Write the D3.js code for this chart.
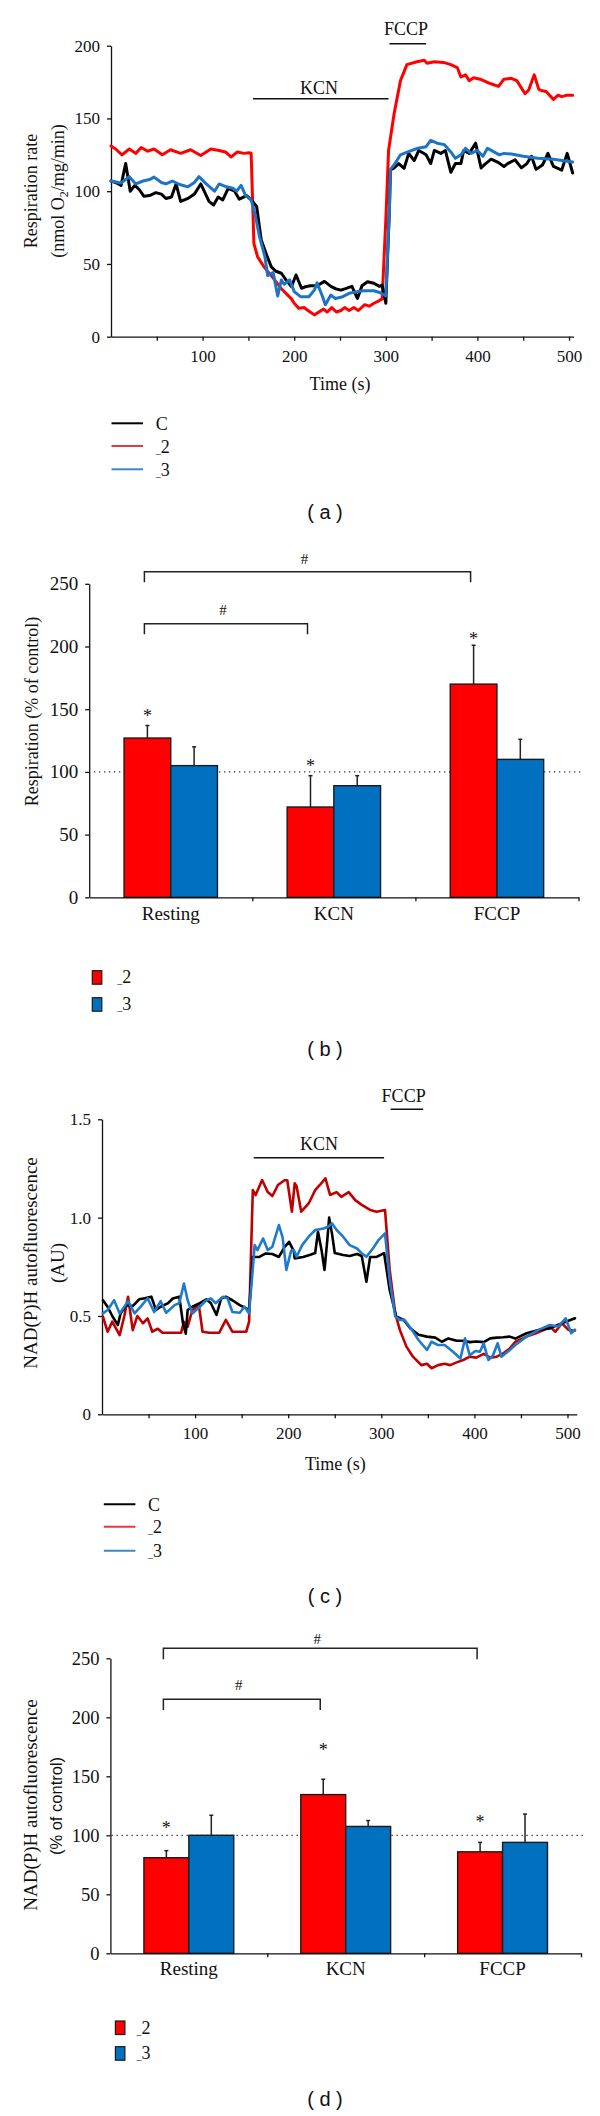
<!DOCTYPE html>
<html><head><meta charset="utf-8">
<script src="https://cdn.jsdelivr.net/npm/d3@7"></script>
<style>body{margin:0;background:#fff}svg{display:block}svg text{font-family:"Liberation Serif","Times New Roman","DejaVu Serif",serif}</style>
</head><body>
<script>
// ---------------- DATA ----------------
const timeTickValues = [50,100,150,200,250,300,350,400,450,500];
const timeTickLabels = [100,200,300,400,500];
const rateTicks = [0,50,100,150,200];
const nadTicks = [0,0.5,1.0,1.5];
const pctTicks = [0,50,100,150,200,250];
const lineNames = ["C","_2","_3"];
const barNames = ["_2","_3"];
const conditions = ["Resting","KCN","FCCP"];

// (a) respiration rate traces [time s, nmol O2/mg/min]
const respC = [[0,107],[5,106],[11,104],[16,119],[21,100],[26,104],[31,101],[36,96.5],[42,97],[49,99],[55,98],[60,95],[66,96],[71,105],[76,93],[84,95],[91,98],[98,105],[107,93],[112,90.5],[117,96],[122,94],[128,102],[135,100],[140,94.5],[148,97],[153,94],[159,89.5],[164,66.5],[170,56],[175,48],[180,45],[186,43.6],[191,39],[197,34.5],[202,42.4],[208,33.3],[213,34.5],[218,35],[225,35],[233,38],[240,34.6],[245,33],[251,32],[256,33],[263,34.6],[269,26.3],[274,35],[280,37.8],[287,36.7],[293,34.6],[296,35.5],[300,23],[304,89],[305,114.6],[309,116],[314,119],[320,115.7],[325,126],[331,121],[336,128],[344,125],[349,119],[353,128],[360,126],[365,128],[371,113],[376,119],[382,119],[385,128],[391,126],[398,133],[404,116],[409,119],[415,122],[422,120],[429,117],[433,119],[441,121.6],[448,116],[454,119],[459,124],[464,115],[471,118],[477,126],[483,117],[492,114.5],[498,126],[504,112.5]];
const resp2 = [[0,131],[5,129],[12,125],[20,129],[27,126],[33,130],[40,127.5],[47,129],[56,125],[65,128.5],[76,126],[87,128.5],[98,124.5],[109,129],[118,128],[125,127],[131,123.5],[138,127],[145,126],[151,126.5],[153,126],[156,64],[160,55],[167,48],[175,42],[186,33],[197,26],[200,23],[205,19.5],[211,20],[215,18],[222,15],[227,17],[232,19],[236,17],[241,20],[246,17],[251,18],[255,20],[260,18],[265,20],[270,18],[277,22],[282,21],[287,23],[292,24.5],[296,26],[300,80],[303,128],[309,153],[316,176],[323,187],[334,189],[342,190],[345,188],[353,189],[363,188.5],[371,187],[378,185],[382,178.5],[387,180],[391,176],[396,178],[403,177],[414,174],[423,172],[429,177],[437,177.6],[443,176],[452,167],[456,169.6],[462,180],[467,170],[471,169],[475,168.5],[483,163],[488,166],[492,165],[498,166],[504,166]];
const resp3 = [[0,107],[11,105.6],[20,110],[27,105],[35,107],[42,108],[47,109.7],[55,106],[60,105],[67,107],[75,104.6],[84,103],[91,106],[96,110],[104,105],[113,100],[118,105],[126,103],[133,102],[137,100],[142,104],[147,97],[153,94],[157,85],[162,69],[168,55],[171,42],[177,44],[182,28],[186,39],[189,36],[195,39],[200,31],[207,27.5],[216,27.5],[222,32],[225,37],[231,27.5],[234,22],[240,28.6],[245,26.3],[253,27.5],[260,29.8],[269,31],[276,31.6],[287,31.6],[294,30.2],[300,28],[304,89],[305,115],[309,118],[316,125],[324,127],[335,129.5],[344,130.6],[349,135],[356,133],[364,132],[371,127],[376,122.6],[382,125],[387,129.5],[393,126],[400,128],[406,124],[411,129.5],[418,127],[424,125],[429,126],[437,125.5],[450,124],[466,122.6],[483,122],[504,120]];

// (c) NAD(P)H autofluorescence traces [time s, AU]
const nadC = [[1,0.58],[6,0.547],[11,0.5],[17,0.454],[20,0.513],[26,0.555],[33,0.55],[40,0.585],[46,0.59],[53,0.598],[58,0.53],[63,0.547],[71,0.565],[76,0.589],[83,0.598],[87,0.463],[90,0.41],[92,0.53],[97,0.547],[105,0.565],[112,0.585],[117,0.565],[123,0.505],[128,0.589],[133,0.598],[140,0.58],[148,0.555],[155,0.538],[158,0.53],[162,0.8],[169,0.8],[176,0.818],[183,0.815],[190,0.8],[196,0.85],[201,0.877],[206,0.83],[207,0.793],[216,0.8],[223,0.81],[229,0.82],[232,0.928],[236,0.83],[239,0.734],[242,0.886],[244,1.0],[247,0.92],[250,0.82],[259,0.81],[266,0.805],[274,0.815],[279,0.805],[284,0.674],[288,0.8],[295,0.8],[303,0.82],[309,0.632],[316,0.497],[324,0.48],[331,0.438],[340,0.404],[349,0.395],[358,0.39],[365,0.369],[372,0.386],[381,0.374],[388,0.374],[395,0.367],[402,0.37],[410,0.367],[417,0.386],[424,0.39],[431,0.392],[438,0.395],[444,0.385],[456,0.412],[469,0.429],[481,0.437],[494,0.463],[508,0.488]];
const nad2 = [[1,0.497],[6,0.42],[11,0.471],[19,0.403],[24,0.5],[28,0.598],[33,0.428],[38,0.5],[44,0.463],[49,0.488],[54,0.42],[60,0.435],[65,0.415],[76,0.415],[85,0.415],[88,0.471],[92,0.445],[97,0.53],[104,0.555],[108,0.42],[115,0.415],[126,0.415],[133,0.48],[140,0.42],[155,0.42],[158,0.471],[162,1.14],[165,1.115],[172,1.191],[178,1.13],[183,1.11],[189,1.166],[196,1.19],[199,1.19],[204,1.03],[207,1.175],[209,1.16],[214,1.03],[222,1.072],[229,1.14],[234,1.166],[240,1.2],[245,1.115],[252,1.13],[257,1.106],[265,1.13],[272,1.089],[279,1.065],[288,1.039],[295,1.03],[304,1.039],[309,0.734],[315,0.513],[320,0.428],[327,0.344],[334,0.293],[343,0.25],[349,0.257],[354,0.234],[361,0.25],[368,0.257],[374,0.25],[381,0.264],[388,0.276],[395,0.293],[402,0.288],[410,0.307],[417,0.288],[424,0.293],[431,0.31],[438,0.335],[444,0.369],[456,0.395],[466,0.412],[475,0.43],[481,0.446],[487,0.42],[494,0.463],[501,0.429],[508,0.425]];
const nad3 = [[1,0.513],[6,0.53],[13,0.58],[19,0.513],[28,0.575],[35,0.513],[42,0.55],[49,0.59],[56,0.52],[63,0.575],[69,0.516],[78,0.555],[83,0.565],[88,0.665],[92,0.58],[97,0.513],[105,0.547],[112,0.58],[117,0.589],[122,0.565],[130,0.598],[135,0.589],[140,0.52],[148,0.516],[153,0.547],[158,0.513],[164,0.86],[167,0.835],[173,0.894],[178,0.835],[183,0.852],[190,0.962],[194,0.9],[198,0.734],[203,0.83],[206,0.835],[209,0.801],[215,0.86],[222,0.903],[229,0.937],[238,0.945],[243,0.954],[247,0.971],[252,0.937],[259,0.903],[266,0.86],[274,0.843],[279,0.818],[284,0.801],[291,0.843],[297,0.886],[304,0.92],[309,0.683],[315,0.497],[320,0.48],[325,0.48],[333,0.428],[340,0.378],[349,0.327],[354,0.369],[361,0.352],[368,0.352],[377,0.318],[385,0.284],[390,0.386],[395,0.3],[401,0.322],[406,0.318],[410,0.361],[415,0.276],[420,0.3],[425,0.361],[429,0.293],[438,0.327],[444,0.352],[456,0.395],[469,0.429],[481,0.454],[490,0.446],[498,0.488],[504,0.412],[508,0.43]];

// (b) respiration, % of control
const respBar2 = [127,72,170];
const respBar2Err = [10,25,31];
const respBar3 = [105,89,110];
const respBar3Err = [15,8,16];
const respStars = [147,107,208];

// (d) NAD(P)H, % of control
const nadBar2 = [81,134.5,86];
const nadBar2Err = [6,13,8];
const nadBar3 = [100,107.5,94];
const nadBar3Err = [17,5,24];
const nadStars = [109,175,114];

// ---------------- DRAW ----------------
const W=600,H=2116;
const SERIF='"Liberation Serif","Times New Roman","DejaVu Serif",serif';
const SANS='"Liberation Sans",Arial,sans-serif';
const INK="#111";
const svg=d3.select("body").append("svg").attr("width",W).attr("height",H);
svg.append("rect").attr("width",W).attr("height",H).attr("fill","#fff");

function styleAxis(g,size){
  g.attr("font-family",null).attr("font-size",size);
  g.selectAll("path,line").attr("stroke",INK).attr("stroke-width",1.3);
  g.selectAll("text").attr("fill",INK).style("font-family",SERIF);
}
function txt(x,y,s,size,opt={}){
  return svg.append("text").attr("x",x).attr("y",y).style("font-family",opt.family||SERIF)
    .attr("font-size",size).attr("fill",INK).attr("text-anchor",opt.anchor||"middle").text(s);
}
function vtitle(x,y,s,size,family){
  return svg.append("text").attr("transform",`translate(${x},${y}) rotate(-90)`)
    .attr("text-anchor","middle").style("font-family",family||SERIF).attr("font-size",size).attr("fill",INK).text(s);
}
function groupLabel(sel,name,size){
  if(name[0]==="_"){
    sel.append("tspan").attr("font-size",size*0.55).text("_");
    sel.append("tspan").text(name.slice(1));
  } else sel.text(name);
}
function panelLabel(y,s){
  txt(325,y,s,20,{family:SANS}).attr("xml:space","preserve");
}

function linePanel(c){
  const x=d3.scaleLinear().domain(c.xDomain).range(c.xRange);
  const y=d3.scaleLinear().domain(c.yDomain).range(c.yRange);
  const ya=svg.append("g").attr("transform",`translate(${c.xRange[0]},0)`)
    .call(d3.axisLeft(y).tickValues(c.yTicks).tickFormat(c.yFmt).tickSize(4).tickSizeOuter(0).tickPadding(7));
  styleAxis(ya,c.tick);
  const xa=svg.append("g").attr("transform",`translate(0,${c.yRange[0]})`)
    .call(d3.axisBottom(x).tickValues(timeTickValues).tickFormat(d=>timeTickLabels.includes(d)?d:"").tickSize(4).tickSizeOuter(0).tickPadding(9));
  styleAxis(xa,c.tick);
  const line=d3.line().x(d=>x(d[0])).y(d=>y(d[1]));
  c.series.forEach(s=>{
    svg.append("path").datum(s.data).attr("d",line).attr("fill","none")
      .attr("stroke",s.color).attr("stroke-width",c.lw).attr("stroke-linejoin","round").attr("stroke-linecap","round");
  });
  c.marks.forEach(m=>{
    svg.append("line").attr("x1",x(m.t0)).attr("x2",x(m.t1)).attr("y1",m.y).attr("y2",m.y)
      .attr("stroke",INK).attr("stroke-width",1.5);
    txt(x(m.tx),m.ty,m.label,18);
  });
  txt(c.timeX,c.timeY,"Time (s)",18);
  c.legend.ys.forEach((ly,i)=>{
    svg.append("line").attr("x1",c.legend.x0).attr("x2",c.legend.x1).attr("y1",ly).attr("y2",ly)
      .attr("stroke",c.legend.colors[i]).attr("stroke-width",2);
    const t=txt(c.legend.tx,ly+6.5,"",18,{anchor:"start"});
    groupLabel(t,lineNames[i],18);
  });
}

function barPanel(c){
  const xb=d3.scaleBand().domain(conditions).range(c.xRange);
  const xs=d3.scaleBand().domain(barNames).range([0,xb.bandwidth()]).paddingOuter(0.746).paddingInner(0);
  const y=d3.scaleLinear().domain([0,250]).range(c.yRange);
  const idx=d3.scaleLinear().domain([0,3]).range(c.xRange);
  svg.append("line").attr("x1",c.dotX0).attr("x2",c.xRange[1]+3).attr("y1",y(100)).attr("y2",y(100))
    .attr("stroke","#333").attr("stroke-width",1.3).attr("stroke-dasharray","1.3,3.7");
  const vals=[c.v2,c.v3], errs=[c.e2,c.e3], cols=["#ff0000","#0070c0"];
  barNames.forEach((gname,gi)=>{
    conditions.forEach((cat,ci)=>{
      const bx=xb(cat)+xs(gname), bw=xs.bandwidth(), v=vals[gi][ci], e=errs[gi][ci];
      const cx=bx+bw/2;
      svg.append("line").attr("x1",cx).attr("x2",cx).attr("y1",y(v)).attr("y2",y(v+e))
        .attr("stroke","#222").attr("stroke-width",1.5);
      svg.append("line").attr("x1",cx-2).attr("x2",cx+2).attr("y1",y(v+e)).attr("y2",y(v+e))
        .attr("stroke","#222").attr("stroke-width",1.5);
      svg.append("rect").attr("x",bx).attr("y",y(v)).attr("width",bw).attr("height",y(0)-y(v))
        .attr("fill",cols[gi]).attr("stroke","#1a1a1a").attr("stroke-width",1.4);
    });
  });
  conditions.forEach((cat,ci)=>{
    const cx=xb(cat)+xs("_2")+xs.bandwidth()/2;
    txt(cx,y(c.stars[ci])+9,"*",18);
  });
  c.brackets.forEach(b=>{
    const xa=xb(conditions[b.from])+xs("_2")+xs.bandwidth()/2-3;
    const xz=xb(conditions[b.to])+xs("_2")+xs.bandwidth()/2-3;
    svg.append("path").attr("d",`M${xa},${y(b.leg)}V${y(b.level)}H${xz}V${y(b.leg)}`)
      .attr("fill","none").attr("stroke","#222").attr("stroke-width",1.5);
    txt((xa+xz)/2-3,y(b.mark)+5,"#",15);
  });
  const ya=svg.append("g").attr("transform",`translate(${c.xRange[0]},0)`)
    .call(d3.axisLeft(y).tickValues(pctTicks).tickSize(4).tickSizeOuter(0).tickPadding(7));
  styleAxis(ya,c.tick);
  const xa=svg.append("g").attr("transform",`translate(0,${c.yRange[0]})`)
    .call(d3.axisBottom(idx).tickValues([1,2,3]).tickFormat("").tickSize(4).tickSizeOuter(0));
  styleAxis(xa,c.tick);
  const xl=svg.append("g").attr("transform",`translate(0,${c.yRange[0]})`)
    .call(d3.axisBottom(xb).tickSize(0).tickPadding(c.catPad));
  styleAxis(xl,19); xl.select(".domain").remove();
  c.legend.ys.forEach((ly,i)=>{
    svg.append("rect").attr("x",c.legend.x).attr("y",ly).attr("width",9.5).attr("height",13.5)
      .attr("fill",cols[i]).attr("stroke","#1a1a1a").attr("stroke-width",1.2);
    const t=txt(c.legend.tx,ly+12.5,"",18,{anchor:"start"});
    groupLabel(t,barNames[i],18);
  });
}

// ---- (a)
linePanel({
  xDomain:[0,505], xRange:[111,573.6], yDomain:[0,200], yRange:[336.7,45.7],
  yTicks:rateTicks, yFmt:d=>d, tick:17, lw:3,
  series:[{data:resp2,color:"#ff0000"},{data:respC,color:"#000"},{data:resp3,color:"#1c75c4"}],
  marks:[{t0:155,t1:303,y:98.7,tx:227,ty:94,label:"KCN"},{t0:304,t1:344,y:43.7,tx:322,ty:35,label:"FCCP"}],
  timeX:340,timeY:390,
  legend:{x0:111.5,x1:143,ys:[423.3,446,469.3],tx:155.8,colors:["#000","#e8383d","#3f86c6"]}
});
vtitle(36.8,191,"Respiration rate",18);
{
  const t=vtitle(63.7,191,"",18);
  t.append("tspan").text("(nmol O");
  t.append("tspan").attr("font-size",12).attr("dy",4).text("2");
  t.append("tspan").attr("dy",-4).text("/mg/min)");
}
panelLabel(519,"( a )");

// ---- (b)
barPanel({
  xRange:[89.2,578.5], yRange:[897.3,583.8], tick:19, catPad:9, dotX0:94,
  v2:respBar2,e2:respBar2Err,v3:respBar3,e3:respBar3Err,stars:respStars,
  brackets:[{from:0,to:2,level:259.6,leg:251.2,mark:269.5},{from:0,to:1,level:218.2,leg:209.7,mark:229}],
  legend:{x:92.3,ys:[970.7,997.7],tx:117.3}
});
vtitle(37.5,711.5,"Respiration (% of control)",18);
panelLabel(1056,"( b )");

// ---- (c)
linePanel({
  xDomain:[0,510], xRange:[102,576.8], yDomain:[0,1.5], yRange:[1414.3,1119.3],
  yTicks:nadTicks, yFmt:d=>d===0?"0":d.toFixed(1), tick:17, lw:2.6,
  series:[{data:nad2,color:"#c00000"},{data:nadC,color:"#000"},{data:nad3,color:"#1f7acc"}],
  marks:[{t0:163,t1:303,y:1157.7,tx:233,ty:1150,label:"KCN"},{t0:310,t1:345,y:1109.3,tx:324,ty:1101.7,label:"FCCP"}],
  timeX:335.4,timeY:1470,
  legend:{x0:103.8,x1:135.4,ys:[1504.3,1526.7,1550.7],tx:148,colors:["#000","#e8383d","#3f86c6"]}
});
vtitle(37,1263,"NAD(P)H autofluorescence",19);
vtitle(63.7,1263,"(AU)",19);
panelLabel(1603,"( c )");

// ---- (d)
barPanel({
  xRange:[110.4,581], yRange:[1953.3,1658.3], tick:18.5, catPad:8, dotX0:111.5,
  v2:nadBar2,e2:nadBar2Err,v3:nadBar3,e3:nadBar3Err,stars:nadStars,
  brackets:[{from:0,to:2,level:258.5,leg:249.2,mark:266.1},{from:0,to:1,level:215.3,leg:206.2,mark:227.4}],
  legend:{x:115.4,ys:[2021,2046.7],tx:136.5}
});
vtitle(37,1805,"NAD(P)H autofluorescence",19);
vtitle(61.5,1806,"(% of control)",16.5,SANS);
panelLabel(2106,"( d )");
</script>
</body></html>
